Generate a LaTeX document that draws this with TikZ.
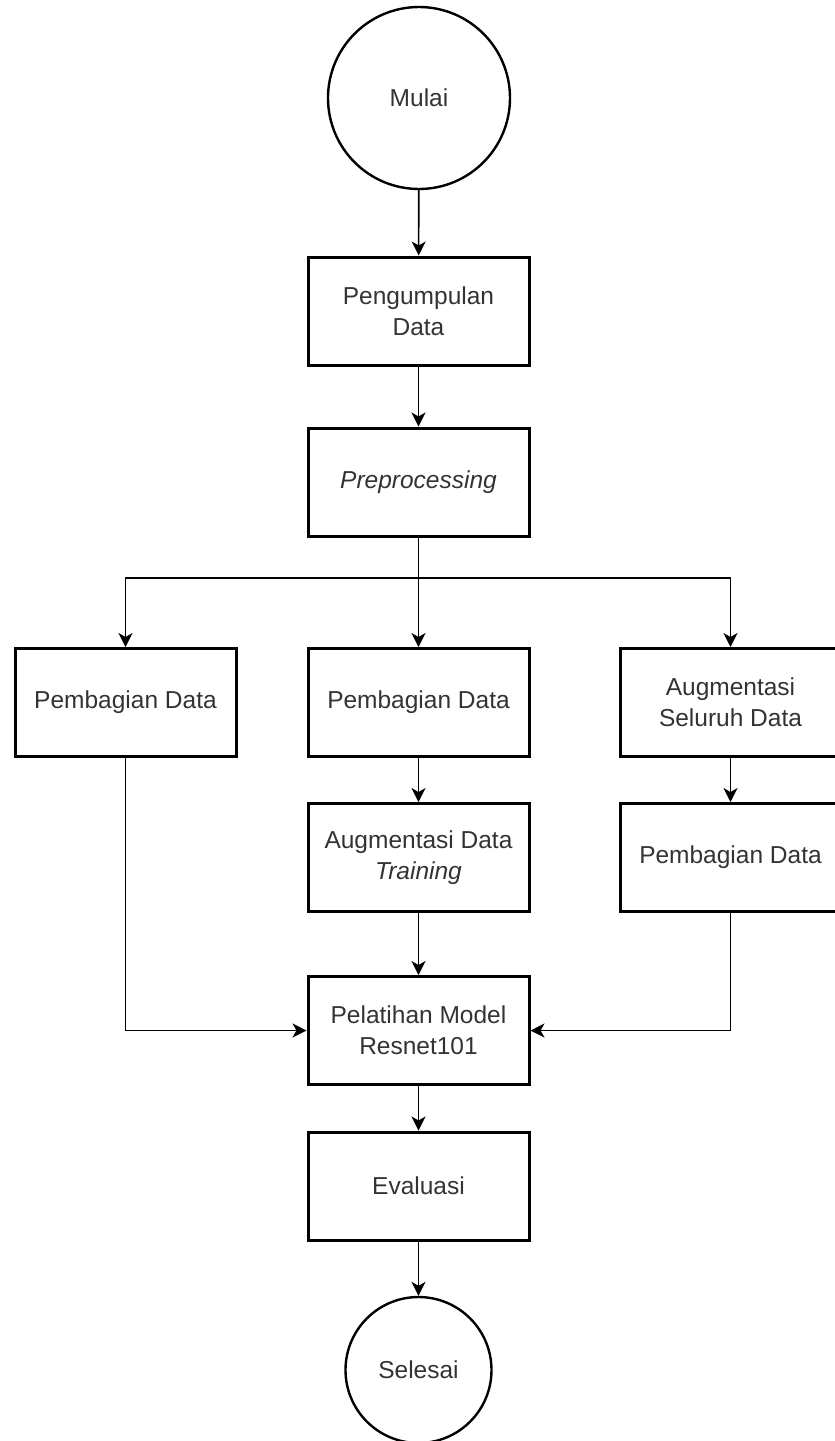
\documentclass[tikz,border=0pt]{standalone}
\usepackage{fontspec}
\setmainfont{Liberation Sans}
\usetikzlibrary{arrows.meta}
\definecolor{txt}{HTML}{333333}
\begin{document}
\begin{tikzpicture}[x=1pt,y=-1pt,
  box/.style={draw, line width=3pt, minimum width=221pt, minimum height=108pt, align=center, inner sep=0pt, text=txt, font=\fontsize{24.5}{31}\selectfont},
  term/.style={circle, draw, line width=2.4pt, inner sep=0pt, text=txt, font=\fontsize{24.5}{31}\selectfont},
  conn/.style={line width=1.6pt, -{Stealth[length=14pt,width=14pt,inset=4pt]}},
  plain/.style={line width=1.6pt}]
\useasboundingbox (0,0) rectangle (835,1441);
\node[term, minimum size=182pt] (mulai) at (419,98) {Mulai};
\node[box] (kumpul) at (418.5,311) {Pengumpulan\\Data};
\node[box] (pre) at (418.5,482) {\textit{Preprocessing}};
\node[box] (pb1) at (125.5,702.5) {Pembagian Data};
\node[box] (pb2) at (418.5,702.5) {Pembagian Data};
\node[box] (aug) at (730.5,702.5) {Augmentasi\\Seluruh Data};
\node[box] (augtr) at (418.5,857.5) {Augmentasi Data\\\textit{Training}};
\node[box] (pb3) at (730.5,857.5) {Pembagian Data};
\node[box] (latih) at (418.5,1030.5) {Pelatihan Model\\Resnet101};
\node[box] (eval) at (418.5,1186) {Evaluasi};
\node[term, minimum size=146pt] (selesai) at (418.5,1370) {Selesai};
\coordinate (br) at (418.5,578);
\draw[conn] (mulai) -- (kumpul);
\draw[conn] (kumpul) -- (pre);
\draw[plain] (pre) -- (br);
\draw[conn] (br) -- (pb2);
\draw[conn] (br) -| (pb1);
\draw[conn] (br) -| (aug);
\draw[conn] (pb2) -- (augtr);
\draw[conn] (aug) -- (pb3);
\draw[conn] (augtr) -- (latih);
\draw[conn] (pb1) |- (latih);
\draw[conn] (pb3) |- (latih);
\draw[conn] (latih) -- (eval);
\draw[conn] (eval) -- (selesai);
\end{tikzpicture}
\end{document}
